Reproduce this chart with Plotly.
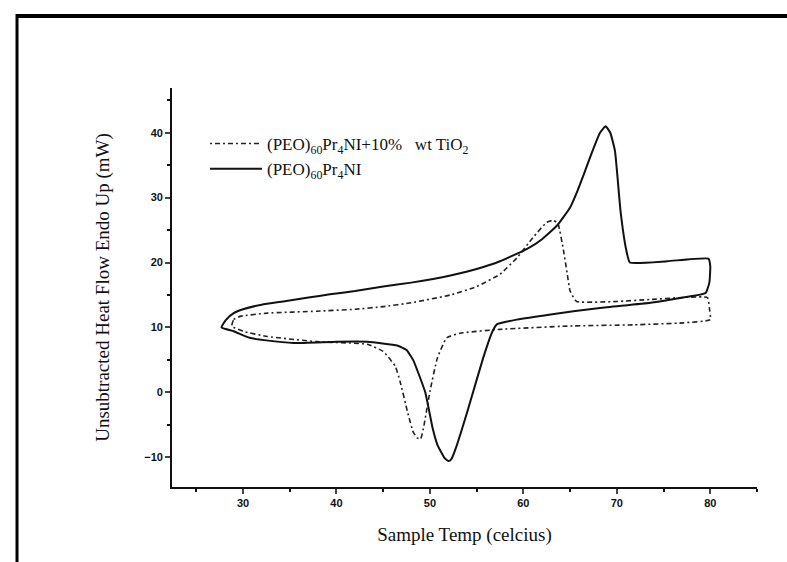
import plotly.graph_objects as go

# Sample with TiO2 (dotted) - DSC loop: heating upper branch, cooling lower branch
tio2_x = [28.8, 29.0, 29.7, 32.6, 37.9, 42.0, 45.0, 48.0, 52.2, 55.0, 57.5, 59.3, 61.0, 62.5, 63.2, 63.7,
          64.3, 64.7, 65.0, 65.7, 70.0, 73.6, 79.7, 79.9, 80.0, 77.1, 71.8, 64.7, 57.5, 53.2, 51.8,
          50.8, 50.0, 49.3, 49.0, 48.6, 48.2, 47.6, 46.8, 46.3, 45.0, 43.3, 37.9, 32.6, 30.0, 28.8]
tio2_y = [10.2, 11.2, 11.7, 12.2, 12.5, 12.8, 13.2, 13.8, 15.0, 16.3, 18.2, 20.7, 23.8, 26.2, 26.5, 26.0,
          21.8, 18.2, 15.6, 14.0, 14.0, 14.3, 14.6, 13.0, 11.2, 10.7, 10.4, 10.2, 9.7, 9.1, 8.4,
          5.3, 0.1, -5.6, -7.2, -7.0, -6.1, -3.0, 1.7, 4.0, 6.3, 7.4, 7.8, 8.6, 9.4, 10.2]

# Pure sample (solid)
pure_x = [27.7, 28.2, 29.0, 30.0, 32.0, 34.3, 37.0, 39.3, 42.0, 45.0, 48.0, 52.2, 55.0, 57.5, 60.4, 62.0,
          63.6, 65.0, 65.8, 66.7, 67.4, 68.2, 68.8, 69.3, 69.8, 70.4, 71.0, 71.4, 75.4, 79.8, 80.0,
          79.9, 79.5, 77.1, 73.6, 68.2, 62.9, 59.3, 57.2, 56.7, 55.7, 54.0, 52.8, 52.3, 52.0, 51.6,
          50.8, 50.3, 49.5, 48.2, 47.5, 46.5, 43.3, 40.0, 35.4, 32.5, 30.7, 29.0, 27.7]
pure_y = [10.0, 11.2, 12.2, 12.8, 13.5, 14.0, 14.6, 15.1, 15.6, 16.3, 16.9, 18.0, 19.0, 20.2, 22.1, 23.6,
          25.7, 28.5, 31.1, 34.5, 37.2, 40.0, 41.0, 40.0, 37.2, 27.9, 22.0, 20.0, 20.2, 20.6, 19.4,
          16.9, 15.3, 14.6, 13.8, 13.0, 12.0, 11.2, 10.5, 9.4, 5.3, -3.0, -8.5, -10.3, -10.6, -10.2,
          -8.1, -5.6, 0.0, 5.0, 6.5, 7.2, 7.8, 7.8, 7.6, 8.0, 8.4, 9.4, 10.0]

x_ticks = [30, 40, 50, 60, 70, 80]
y_ticks = [-10, 0, 10, 20, 30, 40]

name_tio2 = "(PEO)<sub>60</sub>Pr<sub>4</sub>NI+10%\u00a0\u00a0 wt TiO<sub>2</sub>"
name_pure = "(PEO)<sub>60</sub>Pr<sub>4</sub>NI"

fig = go.Figure()
fig.add_trace(go.Scatter(x=tio2_x, y=tio2_y, mode="lines", name=name_tio2,
                         line=dict(color="#222", width=1.6, dash="2px,3px,5px,3px",
                                   shape="spline", smoothing=0.4)))
fig.add_trace(go.Scatter(x=pure_x, y=pure_y, mode="lines", name=name_pure,
                         line=dict(color="#111", width=2, shape="spline", smoothing=0.4)))

W, H = 787, 562
L, R, T, B = 172, 30, 88, 75
pw, ph = W - L - R, H - T - B

def px(xp):
    return (xp - L) / pw

def py(yp):
    return (H - B - yp) / ph

fig.update_layout(
    width=W, height=H,
    margin=dict(l=L, r=R, t=T, b=B),
    plot_bgcolor="white", paper_bgcolor="white",
    showlegend=True,
    legend=dict(x=px(205), y=py(126), xanchor="left", yanchor="top",
                bgcolor="rgba(0,0,0,0)", font=dict(family="Liberation Serif", size=17, color="#111"),
                tracegroupgap=0, itemwidth=52),
    xaxis=dict(range=[22.4, 85], tickvals=x_ticks, ticks="outside", ticklen=5, tickwidth=1.5,
               showline=True, linecolor="#111", linewidth=1.8, showgrid=False, zeroline=False,
               tickfont=dict(family="Liberation Sans", size=11, color="#111", weight="bold"),
               minor=dict(ticks="outside", ticklen=3, dtick=5, tickcolor="#111"),
               title=dict(text="Sample Temp (celcius)", standoff=20,
                          font=dict(family="Liberation Serif", size=19, color="#111"))),
    yaxis=dict(range=[-14.6, 46.9], tickvals=y_ticks, ticks="outside", ticklen=5, tickwidth=1.5,
               showline=True, linecolor="#111", linewidth=1.8, showgrid=False, zeroline=False,
               tickfont=dict(family="Liberation Sans", size=11, color="#111", weight="bold"),
               minor=dict(ticks="outside", ticklen=3, dtick=5, tickcolor="#111"),
               title=dict(text="Unsubtracted Heat Flow Endo Up (mW)", standoff=30,
                          font=dict(family="Liberation Serif", size=19, color="#111"))),
    shapes=[
        dict(type="line", xref="paper", yref="paper", x0=px(17), x1=px(800), y0=py(16), y1=py(16),
             line=dict(color="black", width=4)),
        dict(type="line", xref="paper", yref="paper", x0=px(17), x1=px(17), y0=py(14), y1=py(570),
             line=dict(color="black", width=3)),
    ],
)

fig.write_html("out.html")
